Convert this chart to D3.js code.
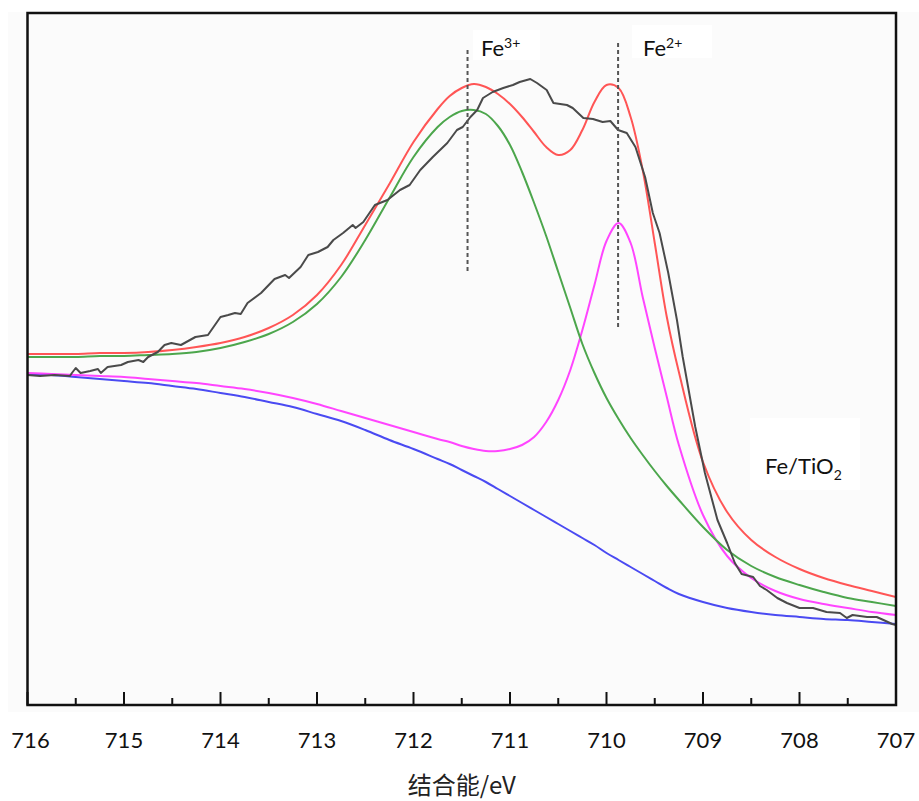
<!DOCTYPE html>
<html>
<head>
<meta charset="utf-8">
<script src="https://cdn.jsdelivr.net/npm/d3@7"></script>
<style>
  html, body { margin: 0; padding: 0; background: #ffffff; }
  svg { display: block; }
</style>
</head>
<body>
<svg id="chart" width="919" height="801"></svg>
<script>
// ---------- DATA (binding energy in eV, intensity in arbitrary units) ----------
const tickValues = [716, 715, 714, 713, 712, 711, 710, 709, 708, 707];
const minorTickValues = [715.5, 714.5, 713.5, 712.5, 711.5, 710.5, 709.5, 708.5, 707.5];

// energies at which the fitted components were read
const fitEnergy = [716, 715.75, 715.5, 715.25, 715, 714.75, 714.5, 714.25, 714, 713.75,
  713.5, 713.25, 713, 712.75, 712.5, 712.25, 712, 711.75, 711.625, 711.5, 711.375,
  711.25, 711.125, 711, 710.875, 710.75, 710.625, 710.5, 710.375, 710.25, 710.125,
  710, 709.875, 709.75, 709.625, 709.5, 709.375, 709.25, 709, 708.75, 708.5, 708.25,
  708, 707.75, 707.5, 707.25, 707];

// red: fit envelope
const envelope = [351, 351, 351, 352, 352, 353, 355, 358, 362, 368,
  377, 390, 410, 440, 480, 521, 563, 596, 609, 617, 621,
  618, 611, 601, 588, 573, 558, 550, 555, 575, 603,
  620, 617, 588, 535, 462, 388, 333, 243, 193, 165, 148,
  136, 127, 120, 114, 108];

// green: Fe3+ component
const fe3Component = [348, 348, 348, 349, 349, 350, 351, 353, 357, 363,
  371, 383, 401, 428, 465, 507, 548, 578, 588, 594, 595,
  591, 579, 560, 533, 502, 469, 433, 397, 361, 332,
  307, 286, 267, 250, 234, 219, 205, 178, 155, 139, 128,
  120, 113, 107, 103, 99];

// magenta: Fe2+ component
const fe2Component = [332, 331, 330, 329, 328, 326, 324, 322, 319, 316,
  312, 307, 301, 294, 287, 280, 273, 266, 263, 259, 256,
  254, 254, 256, 260, 268, 283, 305, 335, 375, 420,
  464, 482, 462, 408, 357, 308, 260, 190, 149, 127, 114,
  106, 101, 97, 93, 90];

// blue: Shirley background
const background = [331, 330, 328, 326, 324, 322, 319, 316, 312, 308,
  303, 298, 291, 284, 275, 265, 256, 246, 241, 235, 229,
  223, 216, 209, 202, 195, 188, 181, 174, 167, 160,
  152, 145, 138, 131, 124, 117, 111, 103, 97, 93, 90,
  88, 86, 85, 83, 81];

// black: measured spectrum
const rawEnergy = [716.00, 715.87, 715.72, 715.56, 715.54, 715.50, 715.45, 715.35, 715.27, 715.24,
  715.17, 715.03, 714.96, 714.85, 714.80, 714.75, 714.65, 714.58, 714.51, 714.41,
  714.26, 714.13, 714.00, 713.92, 713.85, 713.79, 713.72, 713.58, 713.44, 713.33,
  713.29, 713.17, 713.09, 712.99, 712.89, 712.83, 712.73, 712.63, 712.60, 712.52,
  712.40, 712.27, 712.14, 712.04, 711.93, 711.80, 711.65, 711.55, 711.49, 711.41,
  711.34, 711.28, 711.18, 711.07, 710.97, 710.90, 710.79, 710.72, 710.62, 710.55,
  710.41, 710.35, 710.24, 710.14, 710.04, 709.96, 709.88, 709.79, 709.70, 709.60,
  709.52, 709.45, 709.36, 709.27, 709.21, 709.08, 708.98, 708.85, 708.75, 708.67,
  708.60, 708.48, 708.41, 708.34, 708.23, 708.13, 708.00, 707.86, 707.72, 707.58,
  707.51, 707.45, 707.30, 707.20, 707.13, 707.04, 707.00];
const rawCounts = [330, 329, 330, 329, 332, 337, 332, 334, 336, 332,
  338, 340, 343, 345, 343, 348, 353, 360, 362, 360,
  368, 370, 388, 390, 392, 391, 402, 412, 426, 430,
  427, 438, 450, 453, 458, 465, 472, 480, 477, 483,
  500, 505, 515, 520, 535, 548, 562, 575, 578, 588,
  595, 607, 613, 617, 620, 623, 626, 622, 615, 602,
  600, 597, 587, 586, 583, 584, 575, 572, 558, 528,
  492, 472, 432, 385, 348, 278, 232, 185, 162, 142,
  131, 128, 119, 115, 107, 102, 97, 97, 93, 92,
  87, 90, 88, 88, 85, 81, 80];

// peak position markers
const markerLabels = ["3+", "2+"];
const markerEnergy = [711.44, 709.88];
const markerTop = [655, 662];
const markerBottom = [432, 375];

// ---------- CHART ----------
(function () {
const svg = d3.select("#chart");
const W = 919, H = 801;
const pl = 27.5, pr = 896, pt = 13, pb = 705;

const x = d3.scaleLinear().domain([716, 707]).range([pl, pr]);
const y = d3.scaleLinear().domain([0, 692]).range([pb, pt]);

// backgrounds
svg.append("rect").attr("x", 0).attr("y", 0).attr("width", W).attr("height", H).attr("fill", "#ffffff");
svg.append("rect").attr("x", 8).attr("y", 12).attr("width", 911).attr("height", 700).attr("fill", "#fbfbfb");

svg.append("defs").append("clipPath").attr("id", "plotclip")
  .append("rect").attr("x", pl).attr("y", pt).attr("width", pr - pl).attr("height", pb - pt);

const plot = svg.append("g").attr("clip-path", "url(#plotclip)");

const fitLine = d3.line()
  .x(d => x(d[0])).y(d => y(d[1]))
  .curve(d3.curveCatmullRom.alpha(0.5));
const rawLine = d3.line()
  .x(d => x(d[0])).y(d => y(d[1]))
  .curve(d3.curveLinear);

const series = [
  { values: background, color: "#4a4af2" },
  { values: fe2Component, color: "#ff45ff" },
  { values: fe3Component, color: "#4ca64c" },
  { values: envelope, color: "#ff5555" }
];

series.forEach(s => {
  plot.append("path")
    .datum(fitEnergy.map((e, i) => [e, s.values[i]]))
    .attr("d", fitLine)
    .attr("fill", "none")
    .attr("stroke", s.color)
    .attr("stroke-width", 2);
});

plot.append("path")
  .datum(rawEnergy.map((e, i) => [e, rawCounts[i]]))
  .attr("d", rawLine)
  .attr("fill", "none")
  .attr("stroke", "#4a4a4a")
  .attr("stroke-width", 2)
  .attr("stroke-linejoin", "round");

// dashed markers
markerEnergy.forEach((e, i) => {
  svg.append("line")
    .attr("x1", x(e)).attr("x2", x(e))
    .attr("y1", y(markerTop[i])).attr("y2", y(markerBottom[i]))
    .attr("stroke", "#555")
    .attr("stroke-width", 2)
    .attr("stroke-dasharray", "4,3");
});

// label boxes
const labelFont = "Lato, 'Open Sans', sans-serif";
function labelBox(bx, by, bw, bh) {
  svg.append("rect").attr("x", bx).attr("y", by).attr("width", bw).attr("height", bh).attr("fill", "#ffffff");
}
labelBox(473, 30, 67, 30);
labelBox(632, 25, 80, 33);
labelBox(750, 418, 110, 72);

function supLabel(tx, ty, sup) {
  const t = svg.append("text").attr("x", tx).attr("y", ty)
    .attr("font-family", labelFont).attr("font-size", 22).attr("fill", "#111");
  t.append("tspan").text("Fe");
  t.append("tspan").attr("font-size", 14).attr("dy", -8).text(sup);
}
supLabel(481, 56, markerLabels[0]);
supLabel(643, 56, markerLabels[1]);

const fl = svg.append("text").attr("x", 765).attr("y", 474)
  .attr("font-family", labelFont).attr("font-size", 22).attr("fill", "#111");
fl.append("tspan").text("Fe/TiO");
fl.append("tspan").attr("font-size", 14).attr("dy", 6).text("2");

// frame
svg.append("rect")
  .attr("x", pl).attr("y", pt).attr("width", pr - pl).attr("height", pb - pt)
  .attr("fill", "none").attr("stroke", "#111").attr("stroke-width", 2.5);

// axis ticks (inward)
const axis = svg.append("g").attr("transform", `translate(0,${pb})`);
axis.selectAll("line.major").data(tickValues).enter().append("line")
  .attr("x1", d => x(d)).attr("x2", d => x(d))
  .attr("y1", 0).attr("y2", -13)
  .attr("stroke", "#111").attr("stroke-width", 2);
axis.selectAll("line.minor").data(minorTickValues).enter().append("line")
  .attr("x1", d => x(d)).attr("x2", d => x(d))
  .attr("y1", 0).attr("y2", -7)
  .attr("stroke", "#111").attr("stroke-width", 2);
axis.selectAll("text.tick").data(tickValues).enter().append("text")
  .attr("x", d => x(d) + (d === 716 ? 3 : 0))
  .attr("y", 43)
  .attr("text-anchor", "middle")
  .attr("font-family", labelFont)
  .attr("font-size", 22)
  .attr("fill", "#111")
  .text(d => d3.format("d")(d));

// axis title
svg.append("text")
  .attr("x", (pl + pr) / 2)
  .attr("y", 794)
  .attr("text-anchor", "middle")
  .attr("font-family", "'Noto Sans CJK SC', sans-serif")
  .attr("font-size", 24)
  .attr("fill", "#222")
  .text("结合能/eV");
})();
</script>
</body>
</html>
